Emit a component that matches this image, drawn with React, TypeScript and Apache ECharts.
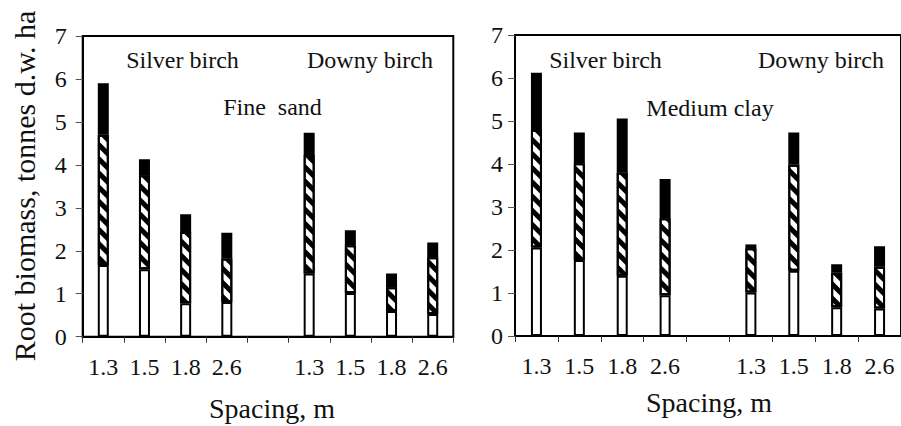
import React, { useEffect, useRef } from "react";
import * as echarts from "echarts";

// Spacing categories (index 4 is the empty gap between species groups)
const categories = ["1.3", "1.5", "1.8", "2.6", "", "1.3", "1.5", "1.8", "2.6"];
const yTicks = [0, 1, 2, 3, 4, 5, 6, 7];

// Fine sand: stacked segments (bottom white, middle hatched, top black)
const sandWhite = [1.67, 1.57, 0.78, 0.81, null, 1.47, 1.02, 0.6, 0.53];
const sandHatched = [3.03, 2.19, 1.66, 1.01, null, 2.76, 1.11, 0.55, 1.32];
const sandBlack = [1.2, 0.37, 0.41, 0.6, null, 0.52, 0.35, 0.32, 0.34];

// Medium clay
const clayWhite = [2.06, 1.77, 1.4, 0.95, null, 1.01, 1.52, 0.67, 0.64];
const clayHatched = [2.73, 2.25, 2.4, 1.79, null, 1.03, 2.46, 0.8, 0.97];
const clayBlack = [1.33, 0.71, 1.26, 0.91, null, 0.09, 0.75, 0.2, 0.48];

const FONT = "'Liberation Serif', 'Times New Roman', serif";

export default function App() {
  const ref = useRef<HTMLDivElement>(null);
  useEffect(() => {
    if (!ref.current) return;
    const chart = echarts.init(ref.current, null, { renderer: "svg" });

    const hatch = {
      symbol: "rect",
      symbolSize: 1,
      color: "#000",
      dashArrayX: [1, 0],
      dashArrayY: [5, 5],
      rotation: Math.PI / 4,
    };

    const xAxisBase = (gridIndex: number) => ({
      type: "category",
      gridIndex,
      data: categories,
      boundaryGap: true,
      axisLine: { show: true, lineStyle: { color: "#000", width: 2 } },
      axisTick: { show: true, length: 6, lineStyle: { color: "#333", width: 1 } },
      axisLabel: { fontSize: 24, color: "#111", fontFamily: FONT, margin: 18, interval: 0 },
      splitLine: { show: false },
    });
    const yAxisBase = (gridIndex: number, margin: number) => ({
      type: "value",
      gridIndex,
      min: yTicks[0],
      max: yTicks[yTicks.length - 1],
      interval: 1,
      axisLine: { show: true, lineStyle: { color: "#000", width: 2 } },
      axisTick: { show: true, length: 7, lineStyle: { color: "#555", width: 1 } },
      axisLabel: { fontSize: 24, color: "#111", fontFamily: FONT, margin },
      splitLine: { show: false },
    });

    const mk = (data: (number | null)[], idx: number, kind: string) => {
      const base: any = {
        type: "bar",
        xAxisIndex: idx,
        yAxisIndex: idx,
        stack: "s" + idx,
        barWidth: 11,
        data: data.map((v) => (v == null ? "-" : v)),
        itemStyle: { borderColor: "#000", borderWidth: 2 },
      };
      if (kind === "white") base.itemStyle.color = "#fff";
      if (kind === "hatch") {
        base.itemStyle.color = "#fff";
        base.itemStyle.decal = hatch;
      }
      if (kind === "black") base.itemStyle.color = "#000";
      return base;
    };

    const txt = (text: string, x: number, y: number, size: number, rot = 0) => ({
      type: "text",
      x,
      y,
      rotation: rot,
      style: {
        text,
        fontSize: size,
        fontFamily: FONT,
        fill: "#111",
        align: "center",
        verticalAlign: "middle",
      },
    });

    chart.setOption({
      animation: false,
      backgroundColor: "#fff",
      grid: [
        { left: 82.7, top: 36, width: 370.6, height: 300.7, show: true, borderColor: "#000", borderWidth: 2, backgroundColor: "transparent" },
        { left: 515, top: 35, width: 387, height: 301, show: true, borderColor: "#000", borderWidth: 2, backgroundColor: "transparent" },
      ],
      xAxis: [xAxisBase(0), xAxisBase(1)],
      yAxis: [yAxisBase(0, 16), yAxisBase(1, 12)],
      series: [
        mk(sandWhite, 0, "white"),
        mk(sandHatched, 0, "hatch"),
        mk(sandBlack, 0, "black"),
        mk(clayWhite, 1, "white"),
        mk(clayHatched, 1, "hatch"),
        mk(clayBlack, 1, "black"),
      ],
      graphic: [
        txt("Root biomass, tonnes d.w. ha", 24, 186, 30, Math.PI / 2),
        txt("Silver birch", 182.5, 60, 24),
        txt("Downy birch", 370, 60, 24),
        txt("Fine  sand", 272.5, 107, 24),
        txt("Silver birch", 605.5, 60, 24),
        txt("Downy birch", 821, 60, 24),
        txt("Medium clay", 710, 108, 24),
        txt("Spacing, m", 272, 408, 28),
        txt("Spacing, m", 709, 402, 28),
      ],
    });
    return () => chart.dispose();
  }, []);
  return (
    <div
      ref={ref}
      style={{ position: "fixed", left: 0, top: 0, width: 901, height: 426, background: "#fff" }}
    />
  );
}
